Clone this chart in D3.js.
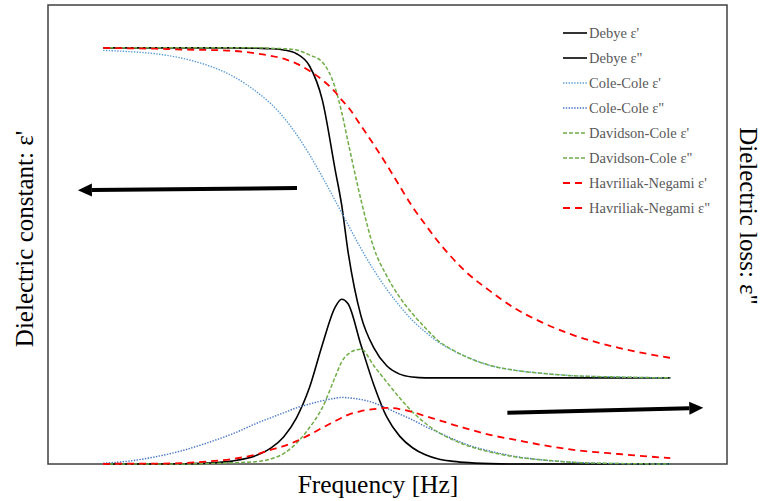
<!DOCTYPE html>
<html lang="en">
<head>
<meta charset="utf-8">
<title>Dielectric relaxation models</title>
<script src="https://d3js.org/d3.v7.min.js"></script>
<style>
  body { margin: 0; background: #fff; }
  text { font-family: "Liberation Serif", "Times New Roman", serif; }
</style>
</head>
<body>
<div class="chart"></div>
<script>
// log10 of frequency (decades, no tick labels in the figure)
const logFreq = [0, 0.5, 1, 1.5, 2, 2.5, 3, 3.25, 3.5, 3.75, 4, 4.25, 4.5, 4.625, 4.75,
                 5, 5.25, 5.5, 5.75, 6, 6.25, 6.5, 6.75, 7, 7.5, 8, 8.5, 9, 10, 11];

// permittivity values (same units for eps' and eps'')
const debyeReal = [10, 10, 10, 10, 10, 10, 9.99, 9.98, 9.95, 9.86, 9.57, 8.75, 7.07, 6.23, 5.10,
                   3.56, 2.79, 2.36, 2.16, 2.09, 2.07, 2.07, 2.07, 2.07, 2.07, 2.07, 2.07, 2.07, 2.07, 2.07];
const debyeImag = [0, 0, 0, 0.005, 0.02, 0.07, 0.22, 0.38, 0.65, 1.11, 1.83, 2.86, 3.77, 3.96, 3.85,
                   2.86, 1.90, 1.13, 0.67, 0.39, 0.22, 0.12, 0.07, 0.04, 0.01, 0, 0, 0, 0, 0];
const coleReal = [9.94, 9.91, 9.86, 9.76, 9.59, 9.33, 8.92, 8.66, 8.33, 7.92, 7.44, 6.90, 6.33, 6.04, 5.75,
                  5.18, 4.66, 4.20, 3.80, 3.45, 3.17, 2.93, 2.75, 2.60, 2.37, 2.25, 2.18, 2.13, 2.09, 2.07];
const coleImag = [0.02, 0.07, 0.17, 0.31, 0.50, 0.72, 0.99, 1.11, 1.23, 1.35, 1.44, 1.52, 1.58, 1.60, 1.59,
                  1.55, 1.47, 1.34, 1.20, 1.06, 0.90, 0.76, 0.62, 0.49, 0.31, 0.18, 0.10, 0.05, 0.01, 0];
const davidsonReal = [10, 10, 10, 10, 10, 10, 10, 9.99, 9.98, 9.95, 9.83, 9.66, 9.04, 8.46, 7.74,
                      6.35, 5.19, 4.52, 4.01, 3.61, 3.27, 2.96, 2.76, 2.60, 2.37, 2.25, 2.18, 2.13, 2.09, 2.07];
const davidsonImag = [0, 0, 0, 0, 0.01, 0.03, 0.06, 0.12, 0.25, 0.50, 0.87, 1.35, 2.09, 2.45, 2.64,
                      2.76, 2.36, 1.97, 1.59, 1.25, 0.98, 0.76, 0.60, 0.47, 0.29, 0.17, 0.10, 0.05, 0.01, 0];
const havriliakReal = [10, 9.99, 9.98, 9.96, 9.95, 9.93, 9.86, 9.81, 9.74, 9.62, 9.45, 9.23, 8.94, 8.75, 8.58,
                       8.13, 7.67, 7.19, 6.68, 6.18, 5.75, 5.34, 4.98, 4.66, 4.16, 3.73, 3.41, 3.15, 2.79, 2.55];
const havriliakImag = [0, 0.01, 0.01, 0.02, 0.06, 0.12, 0.24, 0.34, 0.43, 0.55, 0.70, 0.87, 1.03, 1.11, 1.18,
                       1.27, 1.32, 1.35, 1.32, 1.25, 1.15, 1.06, 0.96, 0.87, 0.70, 0.58, 0.46, 0.36, 0.24, 0.14];

const seriesNames = ["Debye ε'", 'Debye ε"', "Cole-Cole ε'", 'Cole-Cole ε"',
                     "Davidson-Cole ε'", 'Davidson-Cole ε"', "Havriliak-Negami ε'", 'Havriliak-Negami ε"'];
const seriesValues = [debyeReal, debyeImag, coleReal, coleImag,
                      davidsonReal, davidsonImag, havriliakReal, havriliakImag];

// arrows (data units: logFreq, permittivity)
const arrowLeft = [[3.76, 6.63], [-0.49, 6.58]];
const arrowRight = [[7.84, 1.23], [11.64, 1.35]];

// line styles
const styles = [
  {color: '#000000', dash: null, width: 1.6},
  {color: '#000000', dash: null, width: 1.6},
  {color: '#5b9bd5', dash: '1.4,1.4', width: 1.4},
  {color: '#4472c4', dash: '1.4,1.4', width: 1.4},
  {color: '#70ad47', dash: '4,2', width: 1.5},
  {color: '#70ad47', dash: '4,2', width: 1.5},
  {color: '#ff0000', dash: '7,5', width: 1.8},
  {color: '#ff0000', dash: '7,5', width: 1.8}
];

const width = 765;
const height = 501;
const frame = {left: 48, top: 5, right: 727, bottom: 464};

const svg = d3.select('.chart')
  .append('svg')
  .attr('width', width)
  .attr('height', height);

const x = d3.scaleLinear().domain([-1.07, 12.1]).range([frame.left, frame.right]);
const y = d3.scaleLinear().domain([0, 11.03]).range([frame.bottom, frame.top]);

svg.append('rect')
  .attr('x', frame.left)
  .attr('y', frame.top)
  .attr('width', frame.right - frame.left)
  .attr('height', frame.bottom - frame.top)
  .attr('fill', 'none')
  .attr('stroke', '#404040')
  .attr('stroke-width', 1.5);

const line = d3.line()
  .x((d, i) => x(logFreq[i]))
  .y(d => y(d))
  .curve(d3.curveMonotoneX);

svg.selectAll('path.curve')
  .data(seriesValues)
  .enter()
  .append('path')
  .attr('class', 'curve')
  .attr('d', d => line(d))
  .attr('fill', 'none')
  .attr('stroke', (d, i) => styles[i].color)
  .attr('stroke-width', (d, i) => styles[i].width)
  .attr('stroke-dasharray', (d, i) => styles[i].dash);

// arrows
function drawArrow(pts) {
  const x0 = x(pts[0][0]), y0 = y(pts[0][1]);
  const x1 = x(pts[1][0]), y1 = y(pts[1][1]);
  const ang = Math.atan2(y1 - y0, x1 - x0);
  const headLen = 14, headW = 6.5;
  const bx = x1 - headLen * Math.cos(ang), by = y1 - headLen * Math.sin(ang);
  svg.append('line')
    .attr('x1', x0).attr('y1', y0)
    .attr('x2', bx).attr('y2', by)
    .attr('stroke', '#000')
    .attr('stroke-width', 4);
  svg.append('polygon')
    .attr('points', [
      [x1, y1],
      [bx + headW * Math.sin(ang), by - headW * Math.cos(ang)],
      [bx - headW * Math.sin(ang), by + headW * Math.cos(ang)]
    ].map(p => p.join(',')).join(' '))
    .attr('fill', '#000');
}
drawArrow(arrowLeft);
drawArrow(arrowRight);

// legend
const legend = svg.append('g').attr('transform', 'translate(563,33)');
const items = legend.selectAll('g')
  .data(seriesNames)
  .enter()
  .append('g')
  .attr('transform', (d, i) => 'translate(0,' + i * 25 + ')');
items.append('line')
  .attr('x1', 0).attr('x2', 24)
  .attr('y1', 0).attr('y2', 0)
  .attr('stroke', (d, i) => styles[i].color)
  .attr('stroke-width', (d, i) => styles[i].width)
  .attr('stroke-dasharray', (d, i) => styles[i].dash);
items.append('text')
  .attr('x', 26)
  .attr('y', 0)
  .attr('dy', '0.35em')
  .attr('fill', '#595959')
  .style('font-size', '14.5px')
  .text(d => d);

// axis titles
svg.append('text')
  .attr('x', 378)
  .attr('y', 493)
  .attr('text-anchor', 'middle')
  .style('font-size', '25.5px')
  .text('Frequency [Hz]');

svg.append('text')
  .attr('transform', 'translate(33,239) rotate(-90)')
  .attr('text-anchor', 'middle')
  .style('font-size', '25px')
  .text("Dielectric constant: ε'");

svg.append('text')
  .attr('transform', 'translate(740,216) rotate(90)')
  .attr('text-anchor', 'middle')
  .style('font-size', '25px')
  .text('Dielectric loss: ε"');
</script>
</body>
</html>
